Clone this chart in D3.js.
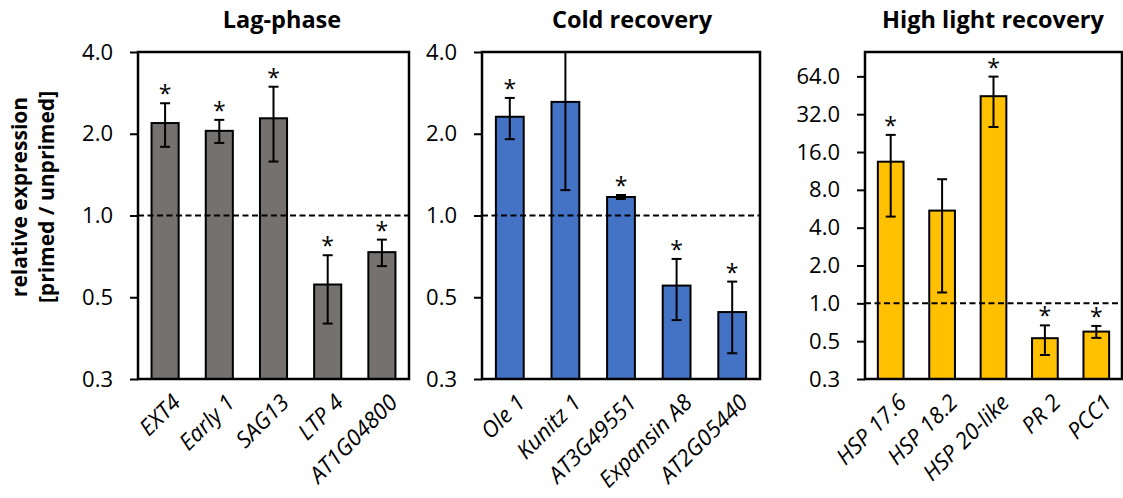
<!DOCTYPE html>
<html>
<head>
<meta charset="utf-8">
<script src="https://cdn.jsdelivr.net/npm/d3@7"></script>
<style>
  html, body { margin: 0; padding: 0; background: #fff; }
  svg { display: block; }
  text { font-family: "Open Sans", "Noto Sans", sans-serif; fill: #000; }
</style>
</head>
<body>
<script>
// ---- data -------------------------------------------------------------
const panelTitles = ["Lag-phase", "Cold recovery", "High light recovery"];

const lagGenes   = ["EXT4", "Early 1", "SAG13", "LTP 4", "AT1G04800"];
const lagValues  = [2.19, 2.05, 2.28, 0.557, 0.733];
const lagErrors  = [0.40, 0.20, 0.70, 0.157, 0.082];
const lagSig     = [true, true, true, true, true];

const coldGenes  = ["Ole 1", "Kunitz 1", "AT3G49551", "Expansin A8", "AT2G05440"];
const coldValues = [2.31, 2.62, 1.17, 0.552, 0.441];
const coldErrors = [0.40, 1.38, 0.02, 0.14, 0.13];
const coldSig    = [true, false, true, true, true];

const lightGenes  = ["HSP 17.6", "HSP 18.2", "HSP 20-like", "PR 2", "PCC1"];
const lightValues = [13.4, 5.47, 44.5, 0.528, 0.596];
const lightErrors = [8.5, 4.25, 19.2, 0.14, 0.065];
const lightSig    = [true, false, true, true, true];

const lowTicks       = [0.25, 0.5, 1, 2, 4];
const lowTickLabels  = ["0.3", "0.5", "1.0", "2.0", "4.0"];
const highTicks      = [0.25, 0.5, 1, 2, 4, 8, 16, 32, 64];
const highTickLabels = ["0.3", "0.5", "1.0", "2.0", "4.0", "8.0", "16.0", "32.0", "64.0"];
const lowDomain  = [0.25, 4];
const highDomain = [0.25, 100];

const yTitleLines = ["relative expression", "[primed / unprimed]"];

// ---- layout -----------------------------------------------------------
const W = 1123, H = 498;
const svg = d3.select("body").append("svg").attr("width", W).attr("height", H);
svg.append("rect").attr("width", W).attr("height", H).attr("fill", "#fff");

const panels = [
  { title: panelTitles[0], titleX: 282, genes: lagGenes, values: lagValues, errors: lagErrors, sig: lagSig,
    color: "#767171", left: 138, right: 409, ticks: lowTicks, tickLabels: lowTickLabels, domain: lowDomain },
  { title: panelTitles[1], titleX: 632, genes: coldGenes, values: coldValues, errors: coldErrors, sig: coldSig,
    color: "#4472C4", left: 482, right: 760, ticks: lowTicks, tickLabels: lowTickLabels, domain: lowDomain },
  { title: panelTitles[2], titleX: 993, genes: lightGenes, values: lightValues, errors: lightErrors, sig: lightSig,
    color: "#FFC000", left: 865, right: 1122, ticks: highTicks, tickLabels: highTickLabels, domain: highDomain }
];
const plotTop = 52, plotBottom = 379;

function drawPanel(p) {
  const x = d3.scaleBand().domain(p.genes).range([p.left, p.right])
    .paddingInner(0.5).paddingOuter(0.25);
  const y = d3.scaleLog().base(2).domain(p.domain).range([plotBottom, plotTop]);
  const rows = p.genes.map((g, i) => ({ gene: g, v: p.values[i], e: p.errors[i], s: p.sig[i] }));
  const g = svg.append("g");

  // panel title
  g.append("text").attr("x", p.titleX).attr("y", 28)
    .attr("text-anchor", "middle").attr("font-weight", 700).attr("font-size", 23.5)
    .text(p.title);

  // bars
  g.selectAll("rect.bar").data(rows).join("rect").attr("class", "bar")
    .attr("x", d => x(d.gene)).attr("width", x.bandwidth())
    .attr("y", d => y(d.v)).attr("height", d => plotBottom - y(d.v))
    .attr("fill", p.color).attr("stroke", "#000").attr("stroke-width", 2);

  // reference line at ratio 1
  g.append("line").attr("x1", p.left).attr("x2", p.right)
    .attr("y1", y(1)).attr("y2", y(1))
    .attr("stroke", "#000").attr("stroke-width", 2).attr("stroke-dasharray", "6,3.5");

  // error bars
  const eb = g.selectAll("g.err").data(rows).join("g").attr("class", "err")
    .attr("stroke", "#000").attr("stroke-width", 2);
  const cx = d => x(d.gene) + x.bandwidth() / 2;
  const lo = d => Math.max(d.v - d.e, p.domain[0]);
  const hi = d => Math.min(d.v + d.e, p.domain[1]);
  eb.append("line").attr("x1", cx).attr("x2", cx).attr("y1", d => y(lo(d))).attr("y2", d => y(hi(d)));
  eb.append("line").attr("x1", d => cx(d) - 5).attr("x2", d => cx(d) + 5)
    .attr("y1", d => y(hi(d))).attr("y2", d => y(hi(d)));
  eb.append("line").attr("x1", d => cx(d) - 5).attr("x2", d => cx(d) + 5)
    .attr("y1", d => y(lo(d))).attr("y2", d => y(lo(d)));

  // significance marks
  g.selectAll("text.star").data(rows.filter(d => d.s)).join("text").attr("class", "star")
    .attr("x", cx).attr("y", d => y(hi(d)) - 1)
    .attr("text-anchor", "middle").attr("font-size", 23)
    .text("*");

  // plot frame
  g.append("rect").attr("x", p.left).attr("y", plotTop)
    .attr("width", p.right - p.left).attr("height", plotBottom - plotTop)
    .attr("fill", "none").attr("stroke", "#000").attr("stroke-width", 2.5);

  // y axis
  const axis = d3.axisLeft(y).tickValues(p.ticks)
    .tickFormat((d, i) => p.tickLabels[i]).tickSize(8).tickPadding(17);
  const ax = g.append("g").attr("transform", `translate(${p.left},0)`).call(axis);
  ax.select(".domain").remove();
  ax.selectAll(".tick line").attr("stroke", "#000").attr("stroke-width", 2);
  ax.selectAll(".tick text").attr("font-size", 22).attr("font-family", "'Open Sans', sans-serif").attr("fill", "#000");

  // category labels
  g.selectAll("text.cat").data(rows).join("text").attr("class", "cat")
    .attr("transform", d => `translate(${cx(d) + 17},${plotBottom + 25}) rotate(-45)`)
    .attr("text-anchor", "end").attr("font-style", "italic").attr("font-size", 22.5)
    .text(d => d.gene);
}

panels.forEach(drawPanel);

// shared y-axis title
const yt = svg.append("text").attr("transform", "translate(0,197) rotate(-90)")
  .attr("text-anchor", "middle").attr("font-weight", 700).attr("font-size", 21);
yt.selectAll("tspan").data(yTitleLines).join("tspan")
  .attr("x", 0).attr("y", (d, i) => 27 + i * 27).text(d => d);
</script>
</body>
</html>
